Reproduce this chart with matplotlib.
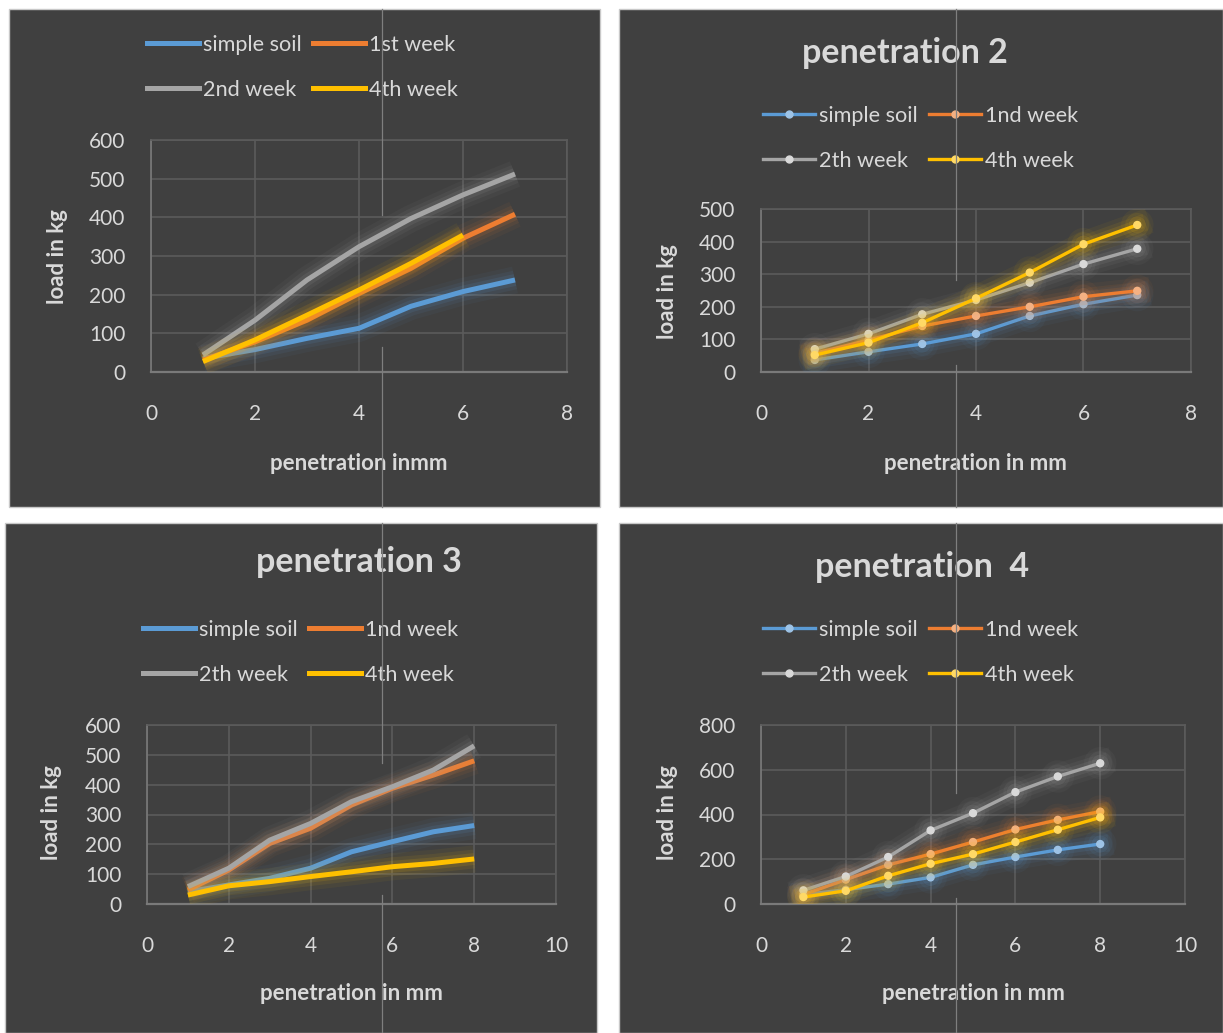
import matplotlib
matplotlib.use("Agg")
import matplotlib.pyplot as plt
import matplotlib.patheffects as pe
from matplotlib.patches import Rectangle
from matplotlib.lines import Line2D

plt.rcParams['font.family'] = ['Lato', 'DejaVu Sans']

# ---------------- data ----------------
x1 = [1, 2, 3, 4, 5, 6, 7]
p1_simple = [35, 58, 87, 113, 170, 208, 238]
p1_week1 = [31, 78, 134, 203, 268, 346, 408]
p1_week2 = [44, 134, 238, 324, 397, 458, 512]
x1_w4 = [1, 2, 3, 4, 5, 6]
p1_week4 = [27, 83, 147, 212, 281, 354]
p1_labels = ["simple soil", "1st week", "2nd week", "4th week"]

x2 = [1, 2, 3, 4, 5, 6, 7]
p2_simple = [37, 62, 86, 117, 172, 208, 236]
p2_week1 = [57, 98, 141, 172, 200, 231, 249]
p2_week2 = [70, 117, 177, 221, 274, 331, 378]
p2_week4 = [52, 90, 151, 226, 305, 392, 451]
p2_labels = ["simple soil", "1nd week", "2th week", "4th week"]

x3 = [1, 2, 3, 4, 5, 6, 7, 8]
p3_simple = [41, 64, 86, 120, 175, 209, 242, 263]
p3_week1 = [47, 114, 203, 254, 332, 388, 432, 480]
p3_week2 = [58, 120, 214, 270, 343, 393, 449, 530]
p3_week4 = [30, 61, 75, 92, 108, 125, 136, 151]
p3_labels = ["simple soil", "1nd week", "2th week", "4th week"]

x4 = [1, 2, 3, 4, 5, 6, 7, 8]
p4_simple = [42, 64, 89, 119, 175, 210, 242, 268]
p4_week1 = [42, 109, 175, 223, 277, 333, 376, 413]
p4_week2 = [61, 123, 210, 329, 406, 500, 570, 629]
p4_week4 = [31, 59, 126, 180, 223, 277, 332, 387]
p4_labels = ["simple soil", "1nd week", "2th week", "4th week"]

titles = [None, "penetration 2", "penetration 3", "penetration  4"]
xlabels = ["penetration inmm", "penetration in mm", "penetration in mm", "penetration in mm"]
ylabel = "load in kg"

# ---------------- style ----------------
W, H = 1223, 1033
BG = "#404040"
TXT = "#d9d9d9"
GRID = "#5b5b5b"
COLORS = ["#5B9BD5", "#ED7D31", "#A5A5A5", "#FFC000"]
LIGHT = ["#9DC3E6", "#F4B183", "#D9D9D9", "#FFD966"]

fig = plt.figure(figsize=(W / 100, H / 100), dpi=100)
fig.patch.set_facecolor("white")


def fx(px):
    return px / W


def fy(py):
    return 1 - py / H


def add_panel(l, t, r, b):
    fig.add_artist(Rectangle((fx(l), fy(b)), fx(r - l), (b - t) / H,
                             transform=fig.transFigure, facecolor=BG,
                             edgecolor="#c8c8c8", linewidth=1.0, zorder=0))


def glow(c, lw):
    return [pe.Stroke(linewidth=lw + 16, foreground=c, alpha=0.05),
            pe.Stroke(linewidth=lw + 10, foreground=c, alpha=0.08),
            pe.Stroke(linewidth=lw + 5, foreground=c, alpha=0.12),
            pe.Normal()]


def make_axes(l, t, r, b, xmax, ymax, ystep, xstep=2):
    ax = fig.add_axes([fx(l), fy(b), fx(r - l), (b - t) / H])
    ax.set_facecolor("none")
    ax.set_xlim(0, xmax)
    ax.set_ylim(0, ymax)
    ax.set_xticks(range(0, xmax + 1, xstep))
    ax.set_yticks(range(0, ymax + 1, ystep))
    ax.grid(True, color=GRID, linewidth=1.2)
    ax.set_axisbelow(True)
    for s in ax.spines.values():
        s.set_color(GRID)
        s.set_linewidth(1.2)
    ax.spines["left"].set_color("#7a7a7a")
    ax.spines["bottom"].set_color("#7a7a7a")
    ax.spines["bottom"].set_linewidth(1.6)
    ax.tick_params(length=0, colors=TXT, labelsize=15)
    ax.tick_params(axis="x", pad=23)
    ax.tick_params(axis="y", pad=18.5)
    return ax


def labels(ax, l, t, r, b, xl, xcx, xcy, ycx, ycy):
    ax.set_xlabel(xl, color=TXT, fontsize=16, fontweight="bold", va="center")
    ax.xaxis.set_label_coords((xcx - l) / (r - l), (b - xcy) / (b - t))
    ax.set_ylabel(ylabel, color=TXT, fontsize=16, fontweight="bold", va="center")
    ax.yaxis.set_label_coords((ycx - l) / (r - l), (b - ycy) / (b - t))


def legend(ax, handles, names, lx, ly):
    order = [0, 2, 1, 3]
    leg = ax.legend([handles[i] for i in order], [names[i] for i in order],
                    ncol=2, loc="upper left",
                    bbox_to_anchor=(fx(lx), fy(ly)), bbox_transform=fig.transFigure,
                    frameon=False, fontsize=15.6, handlelength=2.4,
                    handletextpad=0.2, columnspacing=0.5, labelspacing=1.15,
                    borderaxespad=0, borderpad=0)
    for t in leg.get_texts():
        t.set_color(TXT)
    return leg


def artifact(x, segs):
    for y0, y1 in segs:
        fig.add_artist(Line2D([fx(x), fx(x)], [fy(y0), fy(y1)], transform=fig.transFigure,
                              color="#7f7f7f", linewidth=0.9, zorder=5))


# ---------------- panel 1 ----------------
l, t, r, b = 151, 140, 567, 372
add_panel(9, 9, 600, 507)
ax = make_axes(l, t, r, b, 8, 600, 100)
hs = []
series = [(x1, p1_simple), (x1, p1_week1), (x1, p1_week2), (x1_w4, p1_week4)]
zs = [3, 3, 3, 4]
for i, (xx, yy) in enumerate(series):
    ax.plot(xx, yy, color=COLORS[i], linewidth=3.6, solid_capstyle="butt",
            path_effects=glow(COLORS[i], 3.6), zorder=zs[i])
    hs.append(Line2D([], [], color=COLORS[i], linewidth=3.6))
legend(ax, hs, p1_labels, 147, 35)
labels(ax, l, t, r, b, xlabels[0], 359, 463, 58, 257)

# ---------------- panel 2 ----------------
l, t, r, b = 761, 209, 1191, 372
add_panel(619, 9, 1223, 507)
ax = make_axes(l, t, r, b, 8, 500, 100)
hs = []
series = [p2_simple, p2_week1, p2_week2, p2_week4]
for i, yy in enumerate(series):
    ax.plot(x2, yy, color=COLORS[i], linewidth=2.4, marker="o", markersize=5,
            markerfacecolor=LIGHT[i], markeredgecolor=LIGHT[i],
            path_effects=glow(COLORS[i], 2.4), zorder=3 + (i == 3))
    hs.append(Line2D([], [], color=COLORS[i], linewidth=2.4, marker="o", markersize=5,
                     markerfacecolor=LIGHT[i], markeredgecolor=LIGHT[i]))
legend(ax, hs, p2_labels, 763, 106)
labels(ax, l, t, r, b, xlabels[1], 975, 463, 667, 292)
fig.text(fx(905), fy(53), titles[1], color=TXT, fontsize=24.5, fontweight="bold",
         ha="center", va="center")

# ---------------- panel 3 ----------------
l, t, r, b = 147, 725, 556, 904
add_panel(5, 523, 597, 1033)
ax = make_axes(l, t, r, b, 10, 600, 100)
hs = []
series = [p3_simple, p3_week1, p3_week2, p3_week4]
for i, yy in enumerate(series):
    ax.plot(x3, yy, color=COLORS[i], linewidth=3.6, solid_capstyle="butt",
            path_effects=glow(COLORS[i], 3.6), zorder=3)
    hs.append(Line2D([], [], color=COLORS[i], linewidth=3.6))
legend(ax, hs, p3_labels, 143, 620)
labels(ax, l, t, r, b, xlabels[2], 351, 993, 51, 813)
fig.text(fx(359), fy(562), titles[2], color=TXT, fontsize=24.5, fontweight="bold",
         ha="center", va="center")

# ---------------- panel 4 ----------------
l, t, r, b = 761, 725, 1185, 904
add_panel(619, 523, 1223, 1033)
ax = make_axes(l, t, r, b, 10, 800, 200)
hs = []
series = [p4_simple, p4_week1, p4_week2, p4_week4]
for i, yy in enumerate(series):
    ax.plot(x4, yy, color=COLORS[i], linewidth=2.4, marker="o", markersize=5,
            markerfacecolor=LIGHT[i], markeredgecolor=LIGHT[i],
            path_effects=glow(COLORS[i], 2.4), zorder=3)
    hs.append(Line2D([], [], color=COLORS[i], linewidth=2.4, marker="o", markersize=5,
                     markerfacecolor=LIGHT[i], markeredgecolor=LIGHT[i]))
legend(ax, hs, p4_labels, 763, 620)
labels(ax, l, t, r, b, xlabels[3], 973, 993, 667, 813)
fig.text(fx(922), fy(567), titles[3], color=TXT, fontsize=24.5, fontweight="bold",
         ha="center", va="center")

# scan artifacts (thin vertical lines)
artifact(382, [(9, 215), (347, 507), (523, 763), (895, 1033)])
artifact(956, [(9, 280), (365, 507), (523, 793), (898, 1033)])

fig.savefig("out.png", dpi=100, facecolor="white")
